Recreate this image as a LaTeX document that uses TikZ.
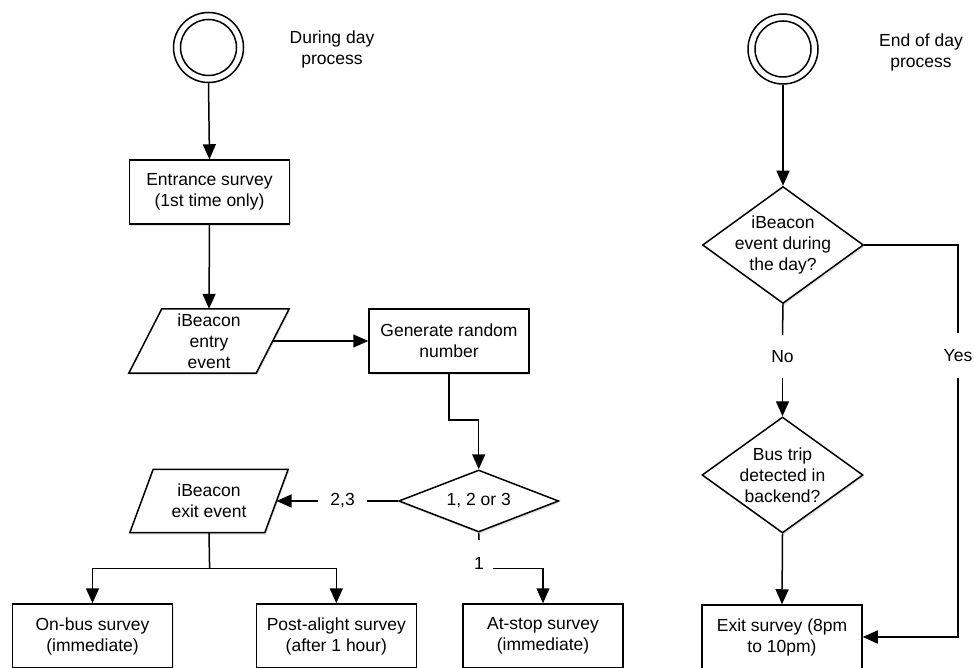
\documentclass[tikz,border=0pt]{standalone}
\usepackage{fontspec}
\setmainfont{Liberation Sans}
\usetikzlibrary{arrows.meta,shapes.geometric,shadows,calc,backgrounds}
\newcommand{\mypgram}[2]{%
  \begin{scope}[on background layer]
    \draw[lw, fill=white, shad] ($(#1.north west)+(#2,0)$) -- (#1.north east)
      -- ($(#1.south east)-(#2,0)$) -- (#1.south west) -- cycle;
  \end{scope}}
\begin{document}
\begin{tikzpicture}[x=1pt,y=-1pt,
  every node/.style={font=\fontsize{17.5}{21}\selectfont},
  lw/.style={line width=1.5pt},
  shad/.style={drop shadow={opacity=0.22, shadow xshift=1pt, shadow yshift=-2pt}},
  txt/.style={align=center, inner sep=0pt},
  boxn/.style={draw, lw, fill=white, shad, minimum width=160pt, minimum height=64pt, inner sep=0pt, align=center},
  pbox/.style={minimum height=64pt, inner sep=0pt, align=center},
  dia/.style={draw, lw, fill=white, shad, diamond, inner sep=0pt},
  startc/.style={draw, lw, circle, minimum size=70pt, inner sep=0pt, fill=white},
  lbl/.style={inner sep=0pt, align=center},
  arr/.style={lw, -{Triangle[length=15pt,width=13pt]}},
  ln/.style={lw}
]
\useasboundingbox (0,0) rectangle (974,668);
\begin{scope}[on background layer]
  \fill[white] (0,0) rectangle (974,668);
\end{scope}

% ---------- During day process ----------
\node[startc] (s1) at (208.5,47.5) {};
\draw[lw] (s1.center) circle (28pt);
\node[txt] (t1) at (332,49) {During day\\process};

\node[boxn] (entr) at (209.5,192) {Entrance survey\\(1st time only)};

\node[pbox, minimum width=160pt] (entry) at (209,341) {iBeacon\\entry\\event};
\mypgram{entry}{33}

\node[boxn] (gen) at (449,341) {Generate random\\number};

\node[dia, minimum width=160pt, minimum height=62pt,
  label={[txt]center:{1, 2 or 3}}] (rnd) at (478.7,501) {};

\node[pbox, minimum width=158pt, minimum height=63pt] (exitev) at (209,501) {iBeacon\\exit event};
\mypgram{exitev}{23.4}

\node[lbl, minimum width=48pt, minimum height=20pt] (l23) at (342.6,501) {2,3};
\node[lbl, minimum width=28pt, minimum height=46pt] (l1) at (479,563) {1};

\node[boxn] (onbus) at (92.5,636) {On-bus survey\\(immediate)};
\node[boxn] (post) at (336.3,636) {Post-alight survey\\(after 1 hour)};
\node[boxn] (atstop) at (543,636) {At-stop survey\\(immediate)};

\coordinate (c3) at (449,420);
\coordinate (c2) at (209.6,568.3);
\coordinate (c1) at (479,568.3);

\draw[arr] (s1.south) -- (entr.north);
\draw[arr] (entr.south) -- (entry.north);
\draw[arr] ($(entry.east)-(16.5,0)$) -- (gen.west);
\draw[arr] (gen.south) -- (gen.south |- c3) -| (rnd.north);
\draw[ln] (rnd.west) -- (l23.east);
\draw[arr] (l23.west) -- ($(exitev.east)-(11.7,0)$);
\draw[ln] (exitev.south) -- (c2);
\draw[arr] (c2) -| (onbus.north);
\draw[arr] (c2) -| (post.north);
\draw[ln] (rnd.south) -- (l1.north);
\draw[arr] (l1.east |- c1) -| (atstop.north);

% ---------- End of day process ----------
\node[startc] (s2) at (783,49) {};
\draw[lw] (s2.center) circle (28pt);
\node[txt] (t2) at (921,52) {End of day\\process};

\node[dia, minimum width=161pt, minimum height=117pt,
  label={[txt]center:{iBeacon\\event during\\the day?}}] (d1) at (783,245) {};
\node[lbl, minimum height=43pt] (no) at (782.5,356.5) {No};
\node[lbl, minimum height=45pt] (yes) at (958,355.5) {Yes};
\node[dia, minimum width=161pt, minimum height=116pt,
  label={[txt]center:{Bus trip\\detected in\\backend?}}] (d2) at (782.5,475) {};
\node[boxn] (exit) at (782,637) {Exit survey (8pm\\to 10pm)};

\draw[arr] (s2.south) -- (d1.north);
\draw[ln] (d1.south) -- (no.north);
\draw[arr] (no.south) -- (d2.north);
\draw[arr] (d2.south) -- (exit.north);
\draw[ln] (d1.east) -| (yes.north);
\draw[arr] (yes.south) |- (exit.east);
\end{tikzpicture}
\end{document}
